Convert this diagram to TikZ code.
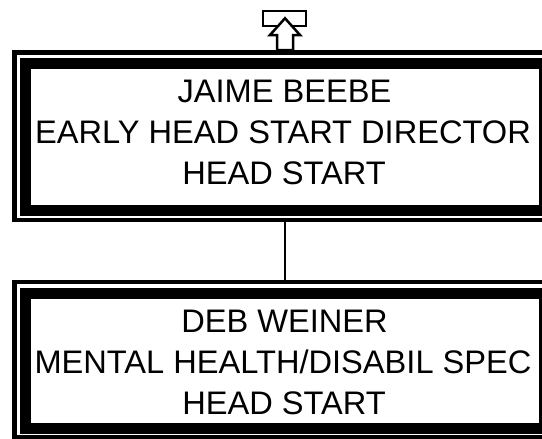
\documentclass[tikz,border=0pt]{standalone}
\usepackage{fontspec}
\setmainfont{Liberation Sans}
\begin{document}
\begin{tikzpicture}[x=1pt,y=-1pt,
  outerframe/.style={draw=black, line width=4.5pt, inner sep=0pt, fill=none},
  thickframe/.style={draw=black, line width=11pt, inner sep=0pt, fill=none},
  label/.style={inner sep=0pt, anchor=base, font=\fontsize{32.6}{38}\selectfont},
  link/.style={draw=black, line width=2.2pt},
  upbox/.style={draw=black, line width=2.5pt, inner sep=0pt, minimum width=43pt, minimum height=15pt},
  uparrow/.style={draw=black, fill=white, line width=2.5pt, line join=miter}
]
\useasboundingbox (0,0) rectangle (542,439);
\fill[white] (0,0) rectangle (542,439);
% top box
\node[outerframe, minimum width=541.5pt, minimum height=167.5pt] (frame1) at (285,136) {};
\node[thickframe, minimum width=519pt, minimum height=147pt] (box1) at (285,137) {};
\node[label] (t1a) at (284.5,102.8) {JAIME BEEBE};
\node[label] (t1b) at (283,143.5) {EARLY HEAD START DIRECTOR};
\node[label] (t1c) at (284,184.8) {HEAD START};
% bottom box
\node[outerframe, minimum width=541.5pt, minimum height=155pt] (frame2) at (285,359.5) {};
\node[thickframe, minimum width=519pt, minimum height=134.5pt] (box2) at (285,360.75) {};
\node[label] (t2a) at (284.5,332.8) {DEB WEINER};
\node[label] (t2b) at (283,373.5) {MENTAL HEALTH/DISABIL SPEC};
\node[label] (t2c) at (284,414.8) {HEAD START};
% connector
\draw[link] (frame1.south) -- (frame2.north);
% up symbol
\node[upbox] (up) at (284.5,18.5) {};
\coordinate (abase) at (285,50);
\path[uparrow] ([xshift=-8pt]abase) -- ++(0,-15) -- ++(-7,0) -- (285,18.3) -- (300,35) -- ++(-7,0) -- ([xshift=8pt]abase) -- cycle;
\end{tikzpicture}
\end{document}
